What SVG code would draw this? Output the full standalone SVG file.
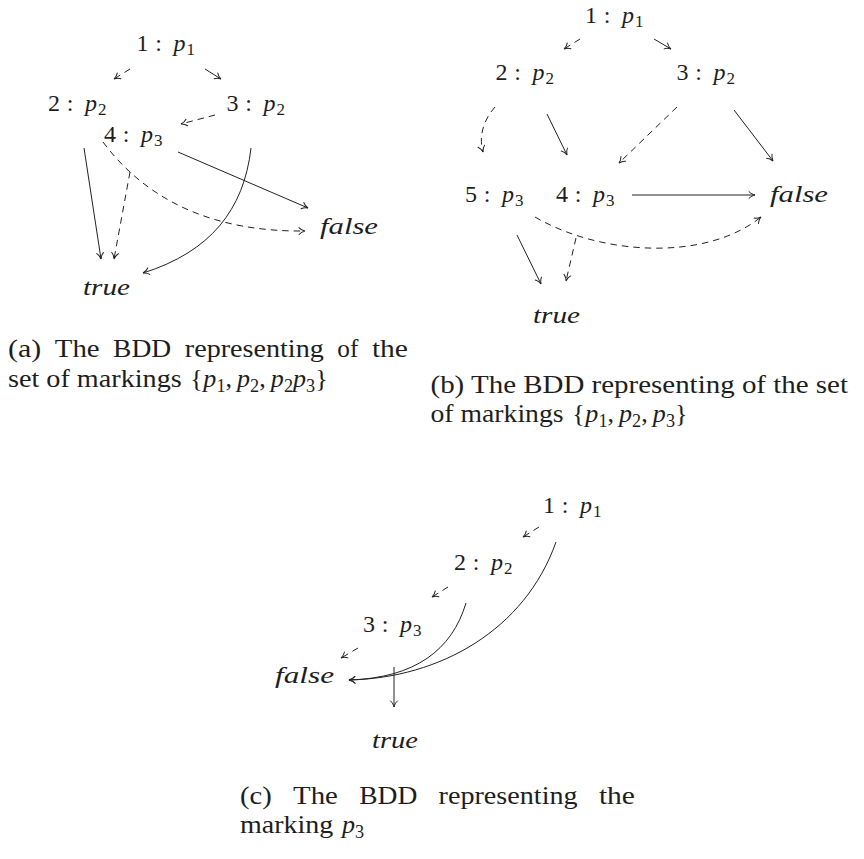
<svg xmlns="http://www.w3.org/2000/svg" width="864" height="859" viewBox="0 0 864 859">
<defs>
<style>
.t{font-family:"Liberation Serif","DejaVu Serif",serif;fill:#1e1e1e}
.lbl{font-size:24px}
.it{font-style:italic}
.sub{font-size:17px}
.cap{font-size:26px}
.cs{font-size:18.2px}
.e{fill:none;stroke:#222;stroke-width:1;marker-end:url(#ah)}
.d{stroke-dasharray:6.5 5}
</style>
<marker id="ah" markerUnits="userSpaceOnUse" markerWidth="10" markerHeight="12" viewBox="-8 -6 10 12" refX="0" refY="0" orient="auto">
<path d="M-6,-3.4 C-4.5,-1.6 -1.8,-0.4 0,0 C-1.8,0.4 -4.5,1.6 -6,3.4" fill="none" stroke="#222" stroke-width="1" stroke-dasharray="none" stroke-linecap="round"/>
</marker>
</defs>
<rect width="864" height="859" fill="#fff"/>

<!-- Panel (a) nodes -->
<g id="a-n1"><text class="t lbl" y="51"><tspan x="142.5" text-anchor="middle">1</tspan><tspan x="158.5" text-anchor="middle">:</tspan><tspan x="173.5" class="it">p</tspan><tspan x="186.5" y="55" class="sub">1</tspan></text></g>
<g id="a-n2"><text class="t lbl" y="111"><tspan x="54" text-anchor="middle">2</tspan><tspan x="70" text-anchor="middle">:</tspan><tspan x="85" class="it">p</tspan><tspan x="98" y="115" class="sub">2</tspan></text></g>
<g id="a-n3"><text class="t lbl" y="111"><tspan x="232.5" text-anchor="middle">3</tspan><tspan x="248.5" text-anchor="middle">:</tspan><tspan x="263.5" class="it">p</tspan><tspan x="276.5" y="115" class="sub">2</tspan></text></g>
<g id="a-n4"><text class="t lbl" y="142"><tspan x="110" text-anchor="middle">4</tspan><tspan x="126" text-anchor="middle">:</tspan><tspan x="141" class="it">p</tspan><tspan x="154" y="146" class="sub">3</tspan></text></g>
<g id="a-false"><text class="t lbl it" x="320" y="234" textLength="58" lengthAdjust="spacingAndGlyphs">false</text></g>
<g id="a-true"><text class="t lbl it" x="83" y="295" textLength="47" lengthAdjust="spacingAndGlyphs">true</text></g>

<!-- Panel (b) nodes -->
<g id="b-n1"><text class="t lbl" y="23"><tspan x="591" text-anchor="middle">1</tspan><tspan x="607" text-anchor="middle">:</tspan><tspan x="622" class="it">p</tspan><tspan x="635" y="27" class="sub">1</tspan></text></g>
<g id="b-n2"><text class="t lbl" y="80"><tspan x="501.5" text-anchor="middle">2</tspan><tspan x="517.5" text-anchor="middle">:</tspan><tspan x="532.5" class="it">p</tspan><tspan x="545.5" y="84" class="sub">2</tspan></text></g>
<g id="b-n3"><text class="t lbl" y="80"><tspan x="682.5" text-anchor="middle">3</tspan><tspan x="698.5" text-anchor="middle">:</tspan><tspan x="713.5" class="it">p</tspan><tspan x="726.5" y="84" class="sub">2</tspan></text></g>
<g id="b-n5"><text class="t lbl" y="202"><tspan x="471" text-anchor="middle">5</tspan><tspan x="487" text-anchor="middle">:</tspan><tspan x="502" class="it">p</tspan><tspan x="515" y="206" class="sub">3</tspan></text></g>
<g id="b-n4"><text class="t lbl" y="202"><tspan x="562" text-anchor="middle">4</tspan><tspan x="578" text-anchor="middle">:</tspan><tspan x="593" class="it">p</tspan><tspan x="606" y="206" class="sub">3</tspan></text></g>
<g id="b-false"><text class="t lbl it" x="770" y="202" textLength="58" lengthAdjust="spacingAndGlyphs">false</text></g>
<g id="b-true"><text class="t lbl it" x="533" y="323" textLength="47" lengthAdjust="spacingAndGlyphs">true</text></g>

<!-- Panel (c) nodes -->
<g id="c-n1"><text class="t lbl" y="513"><tspan x="549" text-anchor="middle">1</tspan><tspan x="565" text-anchor="middle">:</tspan><tspan x="580" class="it">p</tspan><tspan x="593" y="517" class="sub">1</tspan></text></g>
<g id="c-n2"><text class="t lbl" y="570"><tspan x="460" text-anchor="middle">2</tspan><tspan x="476" text-anchor="middle">:</tspan><tspan x="491" class="it">p</tspan><tspan x="504" y="574" class="sub">2</tspan></text></g>
<g id="c-n3"><text class="t lbl" y="632"><tspan x="369" text-anchor="middle">3</tspan><tspan x="385" text-anchor="middle">:</tspan><tspan x="400" class="it">p</tspan><tspan x="413" y="636" class="sub">3</tspan></text></g>
<g id="c-false"><text class="t lbl it" x="275" y="683" textLength="59" lengthAdjust="spacingAndGlyphs">false</text></g>
<g id="c-true"><text class="t lbl it" x="372" y="748" textLength="46" lengthAdjust="spacingAndGlyphs">true</text></g>

<!-- Connectors -->
<g id="connectors">
<path class="e d" d="M130,69 L114,79"/>
<path class="e" d="M205,69 L221,79"/>
<path class="e d" d="M215,115 L181,124"/>
<path class="e" d="M84,148 L101,259"/>
<path class="e d" d="M103,142 C150,205 220,232 305,231"/>
<path class="e d" d="M130,172 L114,259"/>
<path class="e" d="M178,152 L308,208"/>
<path class="e" d="M251,148 C244,210 210,252 143,273"/>

<path class="e d" d="M580,39 L564,49"/>
<path class="e" d="M654,39 L671,49"/>
<path class="e d" d="M495,107 C485,118 478,135 483,152"/>
<path class="e" d="M547,114 L567,155"/>
<path class="e d" d="M677,107 L619,163"/>
<path class="e" d="M734,110 L773,161"/>
<path class="e" d="M632,195 L755,195"/>
<path class="e d" d="M535,217 C600,255 705,262 761,217"/>
<path class="e d" d="M576,238 L566,281"/>
<path class="e" d="M517,235 L541,284"/>

<path class="e d" d="M539,527 L523,537"/>
<path class="e" d="M556,542 C525,630 440,678 349,680"/>
<path class="e d" d="M448,587 L432,597"/>
<path class="e" d="M466,603 C452,650 415,678 349,680"/>
<path class="e d" d="M358,648 L341,658"/>
<path class="e" d="M394,667 L394,707"/>
</g>

<!-- Captions -->
<g id="caption-a">
<text class="t cap" x="8" y="357" textLength="33.2" lengthAdjust="spacingAndGlyphs">(a)</text>
<text class="t cap" x="54.8" y="357" textLength="44.8" lengthAdjust="spacingAndGlyphs">The</text>
<text class="t cap" x="113.1" y="357" textLength="58.1" lengthAdjust="spacingAndGlyphs">BDD</text>
<text class="t cap" x="184.8" y="357" textLength="139" lengthAdjust="spacingAndGlyphs">representing</text>
<text class="t cap" x="337.3" y="357" textLength="21" lengthAdjust="spacingAndGlyphs">of</text>
<text class="t cap" x="371.9" y="357" textLength="36.1" lengthAdjust="spacingAndGlyphs">the</text>
<text class="t cap" x="8" y="387" textLength="173.7" lengthAdjust="spacingAndGlyphs">set of markings</text>
<text class="t cap" y="387"><tspan x="190.3">{</tspan><tspan x="203.3" class="it">p</tspan><tspan x="216.4" y="392" class="cs">1</tspan><tspan x="225.5" y="387">,</tspan><tspan x="237" class="it">p</tspan><tspan x="250.1" y="392" class="cs">2</tspan><tspan x="259.2" y="387">,</tspan><tspan x="270.8" class="it">p</tspan><tspan x="283.9" y="392" class="cs">2</tspan><tspan x="293" y="387" class="it">p</tspan><tspan x="306.1" y="392" class="cs">3</tspan><tspan x="315.2" y="387">}</tspan></text>
</g>
<g id="caption-b">
<text class="t cap" x="430.5" y="393" textLength="417.5" lengthAdjust="spacingAndGlyphs">(b) The BDD representing of the set</text>
<text class="t cap" x="430.5" y="422" textLength="133.1" lengthAdjust="spacingAndGlyphs">of markings</text>
<text class="t cap" y="422"><tspan x="572.3">{</tspan><tspan x="585.3" class="it">p</tspan><tspan x="598.4" y="427" class="cs">1</tspan><tspan x="607.5" y="422">,</tspan><tspan x="619" class="it">p</tspan><tspan x="632.1" y="427" class="cs">2</tspan><tspan x="641.2" y="422">,</tspan><tspan x="652.8" class="it">p</tspan><tspan x="665.9" y="427" class="cs">3</tspan><tspan x="675" y="422">}</tspan></text>
</g>
<g id="caption-c">
<text class="t cap" x="240" y="804" textLength="31.8" lengthAdjust="spacingAndGlyphs">(c)</text>
<text class="t cap" x="293.1" y="804" textLength="44.8" lengthAdjust="spacingAndGlyphs">The</text>
<text class="t cap" x="359.2" y="804" textLength="58.1" lengthAdjust="spacingAndGlyphs">BDD</text>
<text class="t cap" x="438.6" y="804" textLength="139" lengthAdjust="spacingAndGlyphs">representing</text>
<text class="t cap" x="598.9" y="804" textLength="36.1" lengthAdjust="spacingAndGlyphs">the</text>
<text class="t cap" x="240" y="833" textLength="93.3" lengthAdjust="spacingAndGlyphs">marking</text>
<text class="t cap" y="833"><tspan x="341.9" class="it">p</tspan><tspan x="355" y="838" class="cs">3</tspan></text>
</g>
</svg>
